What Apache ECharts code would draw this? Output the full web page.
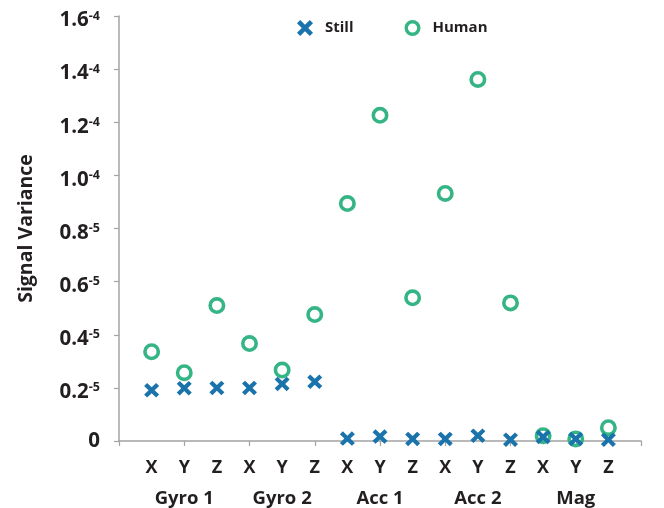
<!DOCTYPE html>
<html>
<head>
<meta charset="utf-8">
<script src="https://cdn.jsdelivr.net/npm/echarts@6/dist/echarts.min.js"></script>
<style>html,body{margin:0;padding:0;background:#fff}#c{width:664px;height:508px}</style>
</head>
<body>
<div id="c"></div>
<script>
// categories (sensor axes) and groups
var axisLetters = ['X','Y','Z','X','Y','Z','X','Y','Z','X','Y','Z','X','Y','Z'];
var groupNames = ['Gyro 1','Gyro 2','Acc 1','Acc 2','Mag'];
// values in the chart's own axis units
var stillValues = [0.191,0.199,0.200,0.200,0.215,0.223,0.009,0.017,0.008,0.008,0.020,0.005,0.015,0.008,0.005];
var humanValues = [0.336,0.257,0.510,0.367,0.267,0.476,0.894,1.226,0.539,0.932,1.361,0.520,0.020,0.008,0.050];
// y tick labels: mantissa and exponent
var yTickValues = [0,0.2,0.4,0.6,0.8,1.0,1.2,1.4,1.6];
var yTickMantissa = ['0','0.2','0.4','0.6','0.8','1.0','1.2','1.4','1.6'];
var yTickExponent = ['','-5','-5','-5','-5','-4','-4','-4','-4'];

var FONT = 'Open Sans';
var TXT = '#231f20';
var BLUE = '#1a74ab';
var GREEN = '#35b585';
var X_PATH = 'path://M3.2,0 L8,4.8 L12.8,0 L16,3.2 L11.2,8 L16,12.8 L12.8,16 L8,11.2 L3.2,16 L0,12.8 L4.8,8 L0,3.2 Z';
var RING_PATH = 'path://M8,0 A8,8 0 1,1 8,16 A8,8 0 1,1 8,0 Z M8,3.4 A4.6,4.6 0 1,0 8,12.6 A4.6,4.6 0 1,0 8,3.4 Z';

function pts(vals){ return vals.map(function(v,i){ return [i+1, v]; }); }

var chart = echarts.init(document.getElementById('c'), null, {renderer:'canvas'});
chart.setOption({
  animation:false,
  textStyle:{fontFamily:FONT},
  grid:{left:119, right:23, top:16, bottom:67, containLabel:false, outerBoundsMode:'none'},
  legend:{
    top:15, left:292, itemGap:51, itemWidth:18, itemHeight:16,
    textStyle:{fontFamily:FONT, fontWeight:'bold', fontSize:15, color:TXT, padding:[0,0,0,6]},
    data:[{name:'Still'},{name:'Human'}]
  },
  xAxis:[{
    type:'value', min:0, max:16, interval:2,
    axisLine:{show:true, lineStyle:{color:'#a3a3a3', width:1.5}},
    axisTick:{show:true, length:5, lineStyle:{color:'#a3a3a3', width:1.2}},
    axisLabel:{show:false}, splitLine:{show:false}
  },{
    type:'value', min:0, max:16, interval:1, position:'bottom',
    axisLine:{show:false}, axisTick:{show:false}, splitLine:{show:false},
    axisLabel:{
      show:true, margin:12, fontFamily:FONT, fontWeight:'bold', fontSize:18, color:TXT, lineHeight:30,
      formatter:function(v){
        var i = Math.round(v) - 1;
        if (i < 0 || i >= axisLetters.length) return '';
        var s = axisLetters[i];
        if (i % 3 === 1) s += '\n{g|' + groupNames[(i-1)/3] + '}';
        return s;
      },
      rich:{g:{fontFamily:FONT, fontWeight:'bold', fontSize:18.5, color:TXT, lineHeight:31}}
    }
  }],
  yAxis:{
    type:'value', min:0, max:1.6, interval:0.2,
    name:'Signal Variance', nameLocation:'middle', nameGap:83, nameRotate:90,
    nameTextStyle:{fontFamily:FONT, fontWeight:'bold', fontSize:19.5, color:TXT},
    axisLine:{show:true, lineStyle:{color:'#a3a3a3', width:1.5}},
    axisTick:{show:true, length:5, lineStyle:{color:'#a3a3a3', width:1.2}},
    splitLine:{show:false},
    axisLabel:{
      margin:19, color:TXT,
      formatter:function(v){
        for (var k=0;k<yTickValues.length;k++){
          if (Math.abs(yTickValues[k]-v) < 1e-6){
            if (!yTickExponent[k]) return '{z|' + yTickMantissa[k] + '}';
            return '{n|' + yTickMantissa[k] + '}{e|' + yTickExponent[k] + '}';
          }
        }
        return '';
      },
      rich:{
        z:{fontFamily:FONT, fontWeight:'bold', fontSize:20.5, color:TXT, lineHeight:20},
        n:{fontFamily:FONT, fontWeight:'bold', fontSize:20.5, color:TXT, lineHeight:17, verticalAlign:'bottom'},
        e:{fontFamily:FONT, fontWeight:'bold', fontSize:12.5, color:TXT, lineHeight:30, verticalAlign:'middle'}
      }
    }
  },
  series:[{
    name:'Still', type:'scatter', xAxisIndex:0, z:3,
    symbol:X_PATH, symbolSize:[15,14.5],
    itemStyle:{color:BLUE, opacity:1},
    data:pts(stillValues)
  },{
    name:'Human', type:'scatter', xAxisIndex:0, z:2,
    symbol:RING_PATH, symbolSize:17,
    itemStyle:{color:GREEN, opacity:1},
    data:pts(humanValues)
  }]
});
</script>
</body>
</html>
